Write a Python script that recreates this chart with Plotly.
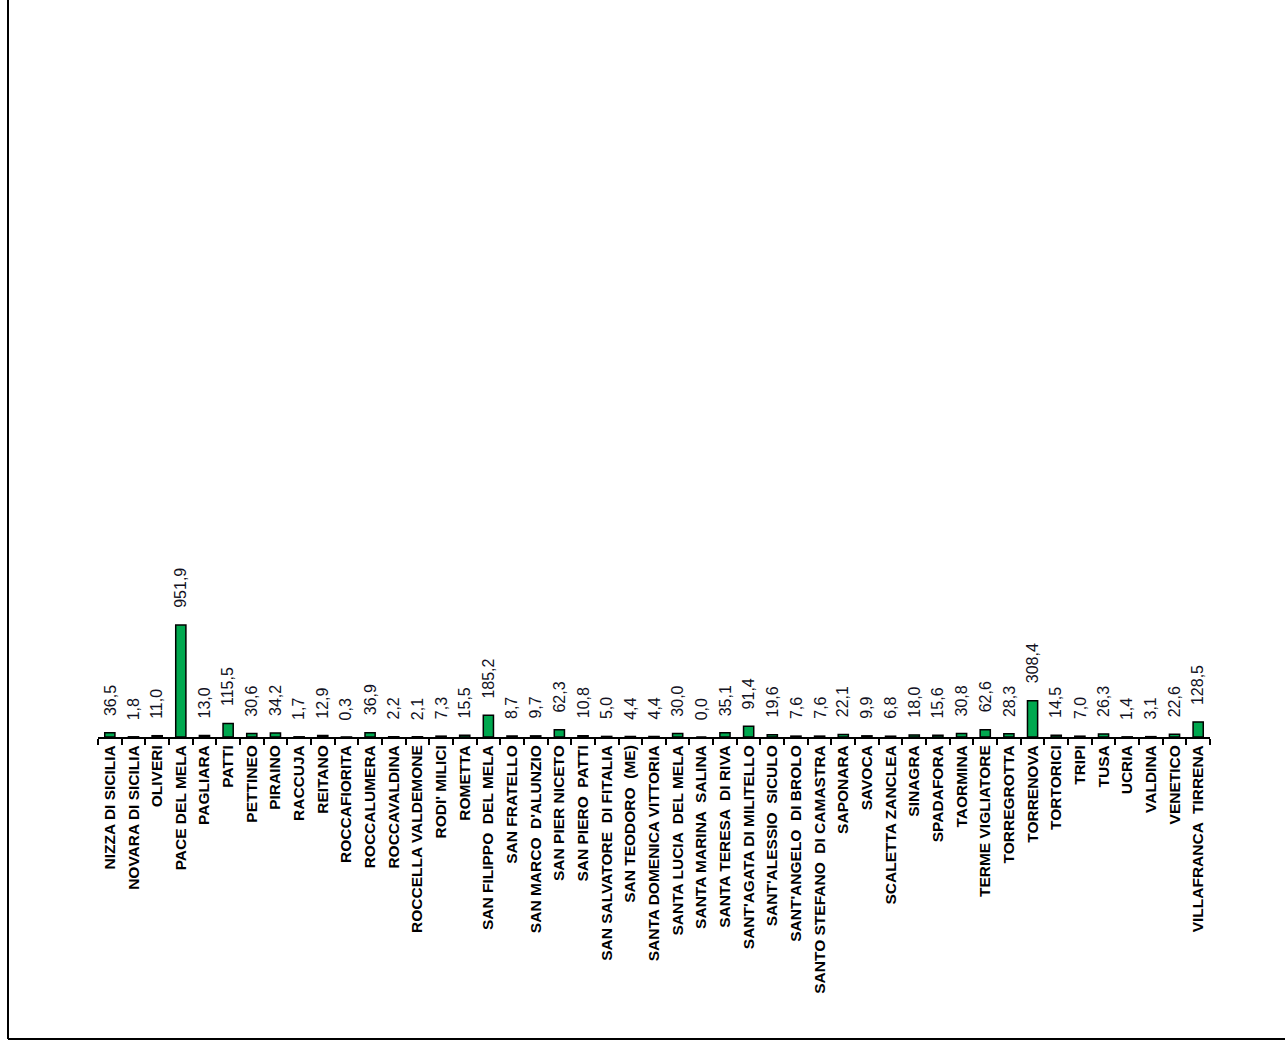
import plotly.graph_objects as go

comuni = [
    "NIZZA DI SICILIA", "NOVARA DI SICILIA", "OLIVERI", "PACE DEL MELA", "PAGLIARA",
    "PATTI", "PETTINEO", "PIRAINO", "RACCUJA", "REITANO", "ROCCAFIORITA", "ROCCALUMERA",
    "ROCCAVALDINA", "ROCCELLA VALDEMONE", "RODI' MILICI", "ROMETTA", "SAN FILIPPO  DEL MELA",
    "SAN FRATELLO", "SAN MARCO  D'ALUNZIO", "SAN PIER NICETO", "SAN PIERO  PATTI",
    "SAN SALVATORE  DI FITALIA", "SAN TEODORO  (ME)", "SANTA DOMENICA VITTORIA",
    "SANTA LUCIA  DEL MELA", "SANTA MARINA  SALINA", "SANTA TERESA  DI RIVA",
    "SANT'AGATA DI MILITELLO", "SANT'ALESSIO  SICULO", "SANT'ANGELO  DI BROLO",
    "SANTO STEFANO  DI CAMASTRA", "SAPONARA", "SAVOCA", "SCALETTA ZANCLEA", "SINAGRA",
    "SPADAFORA", "TAORMINA", "TERME VIGLIATORE", "TORREGROTTA", "TORRENOVA", "TORTORICI",
    "TRIPI", "TUSA", "UCRIA", "VALDINA", "VENETICO", "VILLAFRANCA  TIRRENA",
]
valori = [
    36.5, 1.8, 11.0, 951.9, 13.0, 115.5, 30.6, 34.2, 1.7, 12.9, 0.3, 36.9,
    2.2, 2.1, 7.3, 15.5, 185.2, 8.7, 9.7, 62.3, 10.8, 5.0, 4.4, 4.4, 30.0,
    0.0, 35.1, 91.4, 19.6, 7.6, 7.6, 22.1, 9.9, 6.8, 18.0, 15.6, 30.8, 62.6,
    28.3, 308.4, 14.5, 7.0, 26.3, 1.4, 3.1, 22.6, 128.5,
]
etichette = [f"{v:.1f}".replace(".", ",") for v in valori]

fig = go.Figure(go.Bar(
    x=comuni, y=valori, cliponaxis=False, hoverinfo="skip",
    marker=dict(color="#00a84f", line=dict(color="black", width=1.5)),
))

for c, v, t in zip(comuni, valori, etichette):
    fig.add_annotation(
        x=c, y=v, text=t, textangle=-90, showarrow=False,
        xanchor="center", yanchor="bottom", yshift=15,
        font=dict(family="Liberation Sans, Arial", size=16, color="#111122"),
    )

# plot area geometry (pixels)
L, R, T, B = 98, 1210, 31, 737
W, H = 1285, 1045

def px_x(p):
    return (p - L) / (R - L)

def px_y(p):
    return (B - p) / (B - T)

fig.update_layout(
    width=W, height=H, autosize=False,
    margin=dict(l=L, r=W - R, t=T, b=H - B),
    plot_bgcolor="white", paper_bgcolor="white",
    bargap=0.57, showlegend=False,
    xaxis=dict(
        type="category", tickson="boundaries", ticks="outside", ticklen=6,
        tickwidth=1.5, tickcolor="black", showline=True, linecolor="black",
        linewidth=2, showgrid=False, tickangle=-90,
        tickfont=dict(family="Liberation Sans, Arial", size=15.5, color="black", weight="bold"),
    ),
    yaxis=dict(visible=False, range=[0, 6000], showgrid=False, zeroline=False),
    shapes=[
        dict(type="line", xref="paper", yref="paper",
             x0=px_x(8), x1=px_x(8), y0=px_y(-5), y1=px_y(1039),
             line=dict(color="black", width=2)),
        dict(type="line", xref="paper", yref="paper",
             x0=px_x(8), x1=px_x(1290), y0=px_y(1039), y1=px_y(1039),
             line=dict(color="black", width=2)),
    ],
)

fig.write_html(
    "out.html",
    config={"displayModeBar": False},
    post_script="document.body.style.margin='0';document.body.style.overflow='hidden';",
)
